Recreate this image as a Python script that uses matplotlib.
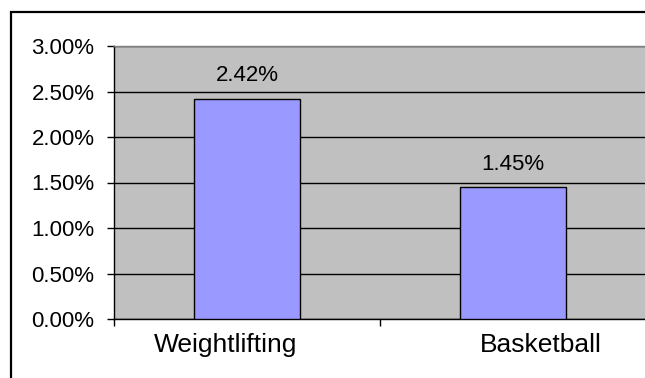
import matplotlib.pyplot as plt
from matplotlib.patches import Rectangle
from matplotlib.transforms import ScaledTranslation
from matplotlib.ticker import PercentFormatter, FixedLocator, NullFormatter

# DATA
sports = ['Weightlifting', 'Basketball']
rates = [2.42, 1.45]
value_labels = ['2.42%', '1.45%']
y_ticks = [0.0, 0.5, 1.0, 1.5, 2.0, 2.5, 3.0]

plt.rcParams['font.family'] = ['Liberation Sans', 'DejaVu Sans']

fig = plt.figure(figsize=(6.45, 3.78), dpi=100)
fig.patch.set_facecolor('white')

# outer chart border (cut off at right and bottom like the source)
fig.patches.append(Rectangle((11 / 645, -0.2), 1.2, 1.2 - 12 / 378,
                             transform=fig.transFigure, fill=False,
                             edgecolor='black', linewidth=1.6, clip_on=False))

ax = fig.add_axes([114 / 645, 1 - 319 / 378, 532 / 645, 273 / 378])
ax.set_facecolor('#C0C0C0')

x = list(range(len(sports)))
ax.bar(x, rates, width=0.4, color='#9999FF', edgecolor='black', linewidth=1.0, zorder=3)

for xi, v, lab in zip(x, rates, value_labels):
    ax.annotate(lab, (xi, v), xytext=(0, 9), textcoords='offset points',
                ha='center', va='bottom', fontsize=16, color='black')

ax.set_xlim(-0.5, len(sports) - 0.5)
ax.set_ylim(0, 3.0)
ax.yaxis.set_major_locator(FixedLocator(y_ticks))
ax.yaxis.set_major_formatter(PercentFormatter(decimals=2))
ax.grid(axis='y', color='black', linewidth=1.0, zorder=1)
ax.set_axisbelow(True)

ax.set_xticks(x)
ax.set_xticklabels(sports)
ax.xaxis.set_minor_locator(FixedLocator([-0.5, 0.5, 1.5]))
ax.xaxis.set_minor_formatter(NullFormatter())
ax.tick_params(axis='x', which='major', length=0, pad=10, labelsize=19)
ax.tick_params(axis='x', which='minor', length=5, width=1, direction='out')
ax.tick_params(axis='y', length=5, width=1, direction='out', pad=9, labelsize=16)

# category labels in the source sit off-centre from their bars
for lbl, dx in zip(ax.get_xticklabels(), [-21, 28]):
    lbl.set_transform(lbl.get_transform() + ScaledTranslation(dx / 100, 0, fig.dpi_scale_trans))

ax.spines['left'].set_color('black')
ax.spines['bottom'].set_color('black')
ax.spines['top'].set_color('#808080')
ax.spines['right'].set_color('#808080')
for s in ax.spines.values():
    s.set_linewidth(1.0)

plt.savefig('out.png', dpi=100)
